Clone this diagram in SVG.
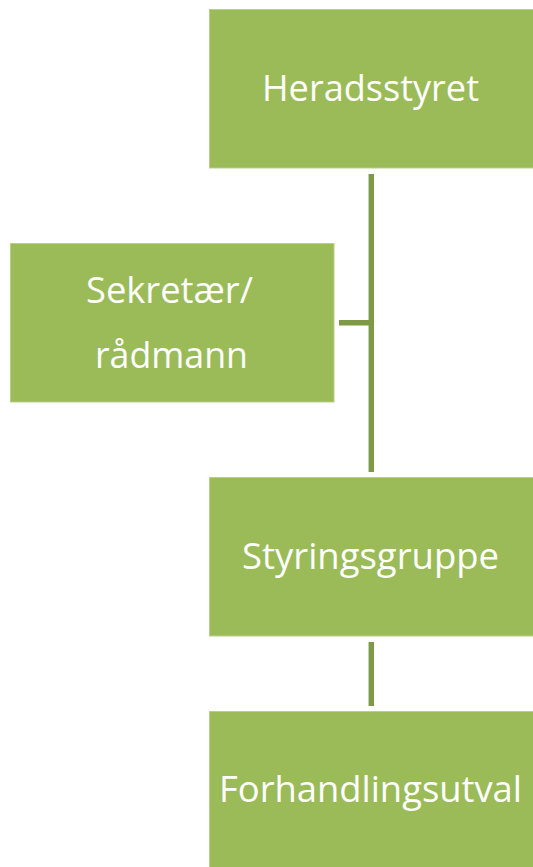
<svg xmlns="http://www.w3.org/2000/svg" width="533" height="867" viewBox="0 0 533 867">
  <style>
    .box { fill: #9BBB59; stroke: #B9CF8A; stroke-width: 1; }
    .lbl { fill: #FFFFFF; font-family: "Open Sans", "Liberation Sans", Arial, sans-serif; font-size: 37px; text-anchor: start; }
    .conn { stroke: #7E9A47; stroke-width: 5.5; fill: none; }
  </style>
  <rect width="533" height="867" fill="#FFFFFF"/>
  <g id="connectors">
    <line class="conn" x1="371.3" y1="174" x2="371.3" y2="472"/>
    <line class="conn" x1="339" y1="322.7" x2="371.3" y2="322.7"/>
    <line class="conn" x1="371.3" y1="642" x2="371.3" y2="706"/>
  </g>
  <g id="heradsstyret">
    <rect class="box" x="209.5" y="9.5" width="324" height="158.5"/>
    <text class="lbl" x="262" y="101" textLength="217" lengthAdjust="spacingAndGlyphs">Heradsstyret</text>
  </g>
  <g id="sekretaer">
    <rect class="box" x="10.5" y="243.5" width="323.5" height="158.5"/>
    <text class="lbl" x="86" y="303" textLength="167" lengthAdjust="spacingAndGlyphs">Sekretær/</text>
    <text class="lbl" x="95" y="368" textLength="153" lengthAdjust="spacingAndGlyphs">rådmann</text>
  </g>
  <g id="styringsgruppe">
    <rect class="box" x="209.5" y="477.5" width="324" height="158.5"/>
    <text class="lbl" x="242" y="569" textLength="257" lengthAdjust="spacingAndGlyphs">Styringsgruppe</text>
  </g>
  <g id="forhandlingsutval">
    <rect class="box" x="209.5" y="711.5" width="324" height="160"/>
    <text class="lbl" x="219" y="802" textLength="303" lengthAdjust="spacingAndGlyphs">Forhandlingsutval</text>
  </g>
</svg>
